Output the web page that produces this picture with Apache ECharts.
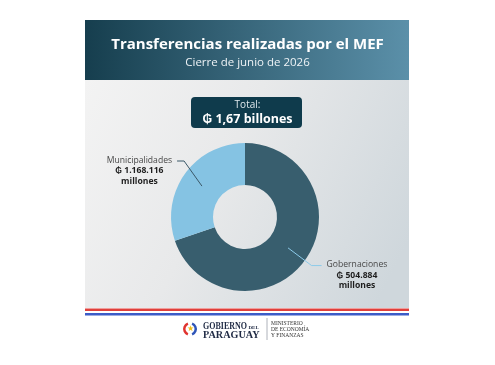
<!DOCTYPE html>
<html>
<head>
<meta charset="utf-8" />
<title>Transferencias realizadas por el MEF</title>
<script src="https://cdn.jsdelivr.net/npm/echarts@6/dist/echarts.min.js"></script>
<style>
html, body { margin: 0; padding: 0; background: #fff; }
#chart { width: 495px; height: 365px; }
</style>
</head>
<body>
<div id="chart"></div>
<script type="text/javascript">
// datos
var titleText = 'Transferencias realizadas por el MEF';
var subText = 'Cierre de junio de 2026';
var totalTitle = 'Total:';
var totalLabel = '₲ 1,67 billones';
var sliceNames = ['Gobernaciones', 'Municipalidades'];
// porción del anillo tal como se ve en la imagen
var sliceValues = [1168116, 504884];
var amountLabels = ['₲ 504.884', '₲ 1.168.116'];
var unitLabel = 'millones';

var sliceColors = ['#385e6e', '#85c3e3'];
var lineColors = ['#8ccbea', '#3b5868'];
var labelLens = [[29, 10], [22, 7]];
var labelPads = [[21, 0, 0, 0], [0, 0, 5, 0]];
var lineH = 10.5;
var font = '"Open Sans", sans-serif';
var serif = '"Liberation Serif", "DejaVu Serif", serif';

var ringData = sliceNames.map(function (n, i) {
    return { name: n, value: sliceValues[i], itemStyle: { color: sliceColors[i] } };
});
var labelData = sliceNames.map(function (n, i) {
    return {
        name: n,
        value: sliceValues[i],
        label: { padding: labelPads[i] },
        labelLine: { length: labelLens[i][0], length2: labelLens[i][1], lineStyle: { color: lineColors[i], width: 1 } }
    };
});

function logoText(x, y, txt, f, sx) {
    return {
        type: 'text', z: 1, silent: true, x: x, y: y, scaleX: sx || 1,
        style: { x: 0, y: 0, text: txt, fill: '#1f2a44', font: f, verticalAlign: 'middle' }
    };
}

var option = {
    animation: false,
    title: [
        {
            text: titleText, left: 'center', top: 36, padding: 0,
            textStyle: { fontFamily: font, fontSize: 15, fontWeight: 'bold', color: '#fff', lineHeight: 18 }
        },
        {
            text: subText, left: 'center', top: 56, padding: 0,
            textStyle: { fontFamily: font, fontSize: 11.5, fontWeight: 'normal', color: '#eef3f6', lineHeight: 14 }
        },
        {
            text: totalTitle, left: 'center', top: 99, padding: 0,
            textStyle: { fontFamily: font, fontSize: 10, fontWeight: 'normal', color: '#dfe8ec', lineHeight: 12 }
        },
        {
            text: totalLabel, left: 'center', top: 111, padding: 0,
            textStyle: { fontFamily: font, fontSize: 12.5, fontWeight: 'bold', color: '#fff', lineHeight: 16 }
        }
    ],
    graphic: [
        {
            type: 'rect', z: 0, silent: true,
            shape: { x: 85, y: 80, width: 324, height: 228 },
            style: {
                fill: new echarts.graphic.LinearGradient(0, 0, 1, 0.7, [
                    { offset: 0, color: '#f3f3f3' },
                    { offset: 0.45, color: '#e8e9ea' },
                    { offset: 1, color: '#cfd7dc' }
                ])
            }
        },
        {
            type: 'rect', z: 0, silent: true,
            shape: { x: 85, y: 20, width: 324, height: 60 },
            style: {
                fill: new echarts.graphic.LinearGradient(0, 0, 1, 0, [
                    { offset: 0, color: '#163e4e' },
                    { offset: 1, color: '#5b90a9' }
                ])
            }
        },
        { type: 'rect', z: 0, silent: true, shape: { x: 85, y: 308.5, width: 324, height: 2.5 }, style: { fill: '#e0403c' } },
        { type: 'rect', z: 0, silent: true, shape: { x: 85, y: 313, width: 324, height: 2.5 }, style: { fill: '#3c5cc8' } },
        {
            type: 'rect', z: 1, silent: true,
            shape: { x: 191, y: 97, width: 111, height: 31, r: 4 },
            style: { fill: '#0f3b4c' }
        },
        // logo
        { type: 'sector', z: 1, silent: true, shape: { cx: 190, cy: 329, r0: 4.5, r: 7, startAngle: 1.95, endAngle: 4.35 }, style: { fill: '#e0342f' } },
        { type: 'sector', z: 1, silent: true, shape: { cx: 190, cy: 329, r0: 4.5, r: 7, startAngle: -1.2, endAngle: 1.2 }, style: { fill: '#2f55b8' } },
        { type: 'text', z: 1, silent: true, style: { x: 190, y: 329, text: '★', fill: '#f0bd1a', fontSize: 8, align: 'center', verticalAlign: 'middle' } },
        logoText(203, 326.5, 'GOBIERNO', 'bold 10px ' + serif, 0.8),
        logoText(248.5, 327.5, 'DEL', 'bold 5px ' + serif, 1),
        logoText(203, 335, 'PARAGUAY', 'bold 10.5px ' + serif, 0.97),
        { type: 'line', z: 1, silent: true, shape: { x1: 267, y1: 318, x2: 267, y2: 340 }, style: { stroke: '#9aa0a8', lineWidth: 0.8 } },
        { type: 'text', z: 1, silent: true, style: { x: 271, y: 324, text: 'MINISTERIO', fill: '#333', font: '5.5px ' + serif, verticalAlign: 'middle' } },
        { type: 'text', z: 1, silent: true, style: { x: 271, y: 330, text: 'DE ECONOMÍA', fill: '#333', font: '5.5px ' + serif, verticalAlign: 'middle' } },
        { type: 'text', z: 1, silent: true, style: { x: 271, y: 336, text: 'Y FINANZAS', fill: '#333', font: '5.5px ' + serif, verticalAlign: 'middle' } }
    ],
    series: [
        {
            name: 'anillo',
            type: 'pie',
            center: [245, 217],
            radius: [32, 74],
            startAngle: 90,
            clockwise: true,
            silent: true,
            label: { show: false },
            labelLine: { show: false },
            emphasis: { disabled: true },
            data: ringData
        },
        {
            name: 'etiquetas',
            type: 'pie',
            z: 3,
            center: [245, 217],
            radius: [0, 53],
            startAngle: 90,
            clockwise: true,
            silent: true,
            avoidLabelOverlap: false,
            itemStyle: { color: 'rgba(0,0,0,0)' },
            emphasis: { disabled: true },
            label: {
                show: true,
                position: 'outside',
                distanceToLabelLine: 5,
                formatter: function (p) {
                    return '{n|' + p.name + '}\n{v|' + amountLabels[p.dataIndex] + '}\n{v|' + unitLabel + '}';
                },
                rich: {
                    n: { fontFamily: font, fontSize: 8.6, color: '#474747', align: 'center', lineHeight: lineH },
                    v: { fontFamily: font, fontSize: 8.6, fontWeight: 'bold', color: '#1e1e1e', align: 'center', lineHeight: lineH }
                }
            },
            labelLine: { show: true, smooth: false },
            labelLayout: function (p) {
                var pts = p.labelLinePoints;
                if (!pts || pts.length < 3) return {};
                // labelRect no incluye el padding
                var nameY = p.labelRect.y + lineH / 2;
                return {
                    labelLinePoints: [pts[0], [pts[1][0], nameY], [pts[2][0], nameY]]
                };
            },
            data: labelData
        }
    ]
};

var myChart = echarts.init(document.getElementById('chart'));
myChart.setOption(option);
</script>
</body>
</html>
